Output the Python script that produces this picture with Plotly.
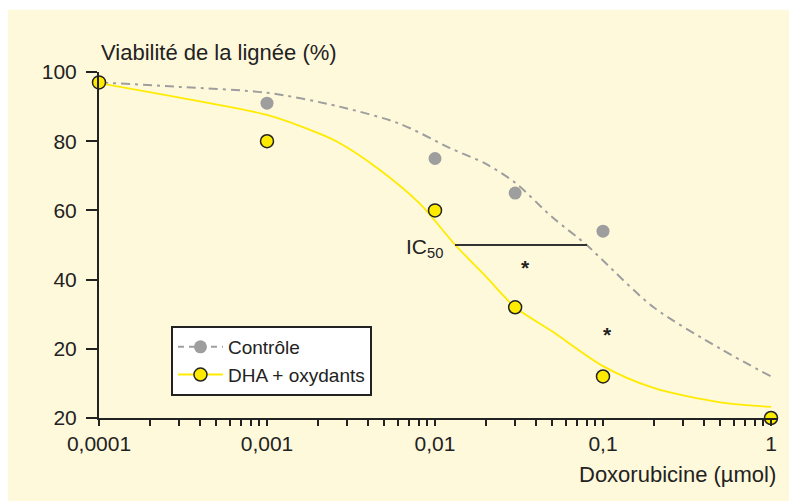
import math
import plotly.graph_objects as go

# ---- data ----
dose_points = [0.0001, 0.001, 0.01, 0.03, 0.1, 1]
controle_points = [97, 91, 75, 65, 54, None]
dha_points = [97, 80, 60, 32, 12, 0]

controle_curve_x = [0.0001, 0.0003, 0.001, 0.0027, 0.0062, 0.0123, 0.02, 0.03, 0.05, 0.08, 0.1, 0.2, 0.5, 1]
controle_curve_y = [97, 95.7, 94, 90, 85, 78, 73.5, 68, 58, 50, 45.5, 32, 20, 12]

dha_curve_x = [0.0001, 0.0004, 0.001, 0.002, 0.0027, 0.0047, 0.0081, 0.0132, 0.02, 0.03, 0.05, 0.1, 0.2, 0.5, 1]
dha_curve_y = [96.8, 91.5, 87.6, 82.4, 79.5, 71.7, 62, 50, 41, 32, 25, 15, 8.7, 4.5, 3.2]

ic50_x = [0.01315, 0.0803]
ic50_y = 50
ic50_label_x = 0.0114
star_x = [0.0348, 0.106]
star_y = [43.4, 24]

x_ticks = [0.0001, 0.001, 0.01, 0.1, 1]
x_tick_labels = ["0,0001", "0,001", "0,01", "0,1", "1"]
y_ticks = [0, 20, 40, 60, 80, 100]
y_tick_labels = ["20", "20", "40", "60", "80", "100"]

CREAM = "#FFF9DC"
GRAY = "#9E9E9E"
YELLOW = "#FFEB00"
INK = "#222222"
FONT = "Liberation Sans, Arial, sans-serif"

fig = go.Figure()

# Contrôle
fig.add_trace(go.Scatter(x=controle_curve_x, y=controle_curve_y, mode="lines",
                         line=dict(color=GRAY, width=2, dash="9px,5px,3px,5px", shape="spline", smoothing=0.8),
                         showlegend=False, hoverinfo="skip"))
fig.add_trace(go.Scatter(x=dose_points, y=controle_points, mode="markers",
                         marker=dict(color=GRAY, size=13, line=dict(width=0)),
                         showlegend=False, cliponaxis=False))
# DHA + oxydants
fig.add_trace(go.Scatter(x=dha_curve_x, y=dha_curve_y, mode="lines",
                         line=dict(color=YELLOW, width=1.8, shape="spline", smoothing=0.8),
                         showlegend=False, hoverinfo="skip"))
fig.add_trace(go.Scatter(x=dose_points, y=dha_points, mode="markers",
                         marker=dict(color=YELLOW, size=13, line=dict(width=1.5, color=INK)),
                         showlegend=False, cliponaxis=False))

# legend entries
fig.add_trace(go.Scatter(x=[None], y=[None], mode="lines+markers", name="Contrôle",
                         line=dict(color=GRAY, width=2, dash="6px,5px"),
                         marker=dict(color=GRAY, size=13)))
fig.add_trace(go.Scatter(x=[None], y=[None], mode="lines+markers", name="DHA + oxydants",
                         line=dict(color=YELLOW, width=1.8),
                         marker=dict(color=YELLOW, size=13, line=dict(width=1.5, color=INK))))

# IC50 line
fig.add_shape(type="line", xref="x", yref="y", x0=ic50_x[0], x1=ic50_x[1], y0=ic50_y, y1=ic50_y,
              line=dict(color="#333333", width=2))
fig.add_annotation(x=math.log10(ic50_label_x), y=ic50_y, xref="x", yref="y", text="IC<sub>50</sub>",
                   showarrow=False, xanchor="right", yanchor="middle", yshift=-3,
                   font=dict(family=FONT, size=21, color=INK))
for sx, sy in zip(star_x, star_y):
    fig.add_annotation(x=math.log10(sx), y=sy, xref="x", yref="y", text="<b>*</b>", showarrow=False,
                       font=dict(family=FONT, size=21, color=INK))

# thin white strip above the cream panel
fig.add_shape(type="rect", xref="paper", yref="paper", x0=-0.2, x1=1.1, y0=1.18, y1=1.3,
              fillcolor="white", line=dict(width=0), layer="below")

# axis titles
fig.add_annotation(x=0, y=1.0, xref="paper", yref="paper", text="Viabilité de la lignée (%)",
                   showarrow=False, xanchor="left", yanchor="bottom", yshift=5,
                   font=dict(family=FONT, size=22, color=INK))
fig.add_annotation(x=1, y=0, xref="paper", yref="paper", text="Doxorubicine (µmol)",
                   showarrow=False, xanchor="right", yanchor="top", yshift=-42,
                   font=dict(family=FONT, size=22, color=INK))

minor_vals = [k * d for d in x_ticks[:-1] for k in range(2, 10)]
all_x = x_ticks + minor_vals
all_text = x_tick_labels + [""] * len(minor_vals)

fig.update_layout(
    width=789, height=493,
    margin=dict(l=91, r=19, t=64, b=83),
    paper_bgcolor=CREAM,
    plot_bgcolor=CREAM,
    font=dict(family=FONT, size=20, color=INK),
    xaxis=dict(type="log", range=[-4, 0.0417], tickmode="array", tickvals=all_x, ticktext=all_text,
               ticks="outside", ticklen=6, tickwidth=1.5, tickcolor=INK,
               showline=True, linecolor=INK, linewidth=2, showgrid=False, zeroline=False,
               automargin=False,
               tickfont=dict(family=FONT, size=21, color=INK)),
    yaxis=dict(range=[0, 100], tickmode="array", tickvals=y_ticks, ticktext=y_tick_labels,
               ticks="outside", ticklen=11, tickwidth=1.5, tickcolor=INK,
               showline=True, linecolor=INK, linewidth=2, showgrid=False, zeroline=False,
               automargin=False, ticklabelstandoff=5,
               tickfont=dict(family=FONT, size=21, color=INK)),
    legend=dict(x=0.106, y=0.266, xanchor="left", yanchor="top",
                bgcolor="white", bordercolor=INK, borderwidth=2, itemwidth=45,
                font=dict(family=FONT, size=19, color=INK)),
)

fig.write_html("out.html")
